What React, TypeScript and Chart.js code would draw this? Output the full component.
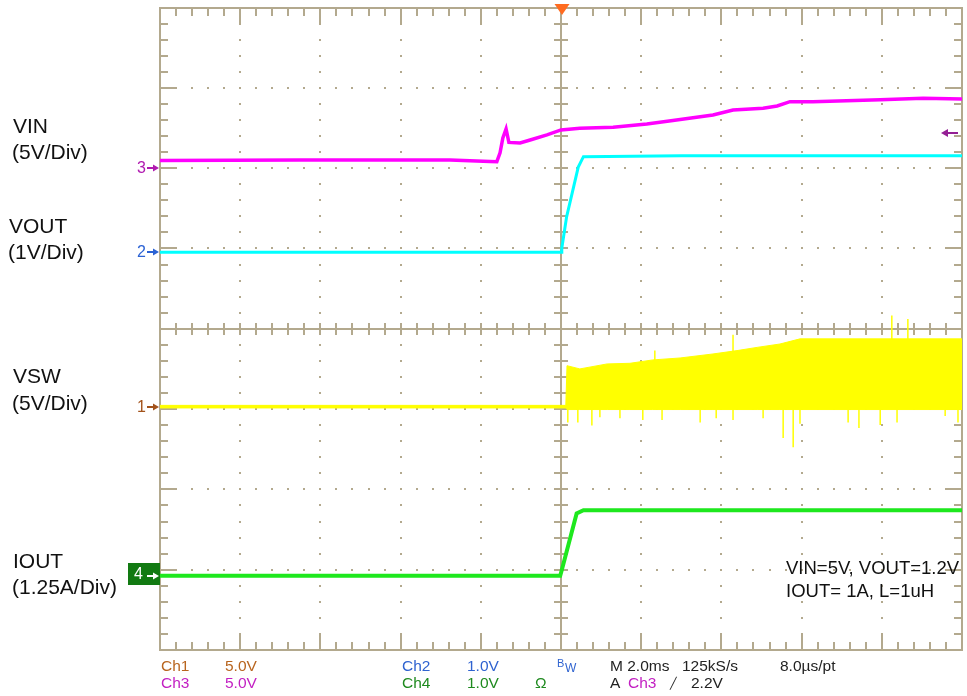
import React, { useEffect, useRef } from "react";
import { Chart, registerables } from "chart.js";

Chart.register(...registerables);

// ---- Time base: 2.0 ms/div, 10 divisions, trigger at centre ----
const T_MIN = -10;
const T_MAX = 10;
const MS_PER_DIV = 2;
const DIVS_X = 10;
const DIVS_Y = 8;

// ---- Channel settings: units / div and ground marker position (div from centre) ----
const CH1_SCALE = 5; // VSW  V/div
const CH1_POS = -0.97;
const CH2_SCALE = 1; // VOUT V/div
const CH2_POS = 0.953;
const CH3_SCALE = 5; // VIN  V/div
const CH3_POS = 2.0;
const CH4_SCALE = 1.25; // IOUT A/div
const CH4_POS = -3.076;
const TRIG_LEVEL_V = 2.2; // Ch3 trigger level

// ---- VIN (Ch3), volts ----
const VIN_T = [-10, -6.51, -2.77, -1.77, -1.6, -1.52, -1.45, -1.37, -1.3, -1.02, -0.77, -0.35, 0, 0.47, 1.3, 2.14, 2.79, 3.79, 4.29, 5.04, 5.39, 5.71, 6.28, 7.96, 9.03, 10];
const VIN_V = [0.48, 0.51, 0.51, 0.42, 0.4, 0.95, 1.88, 2.44, 1.6, 1.57, 1.75, 2.07, 2.38, 2.48, 2.55, 2.75, 2.96, 3.31, 3.62, 3.73, 3.87, 4.14, 4.14, 4.25, 4.35, 4.31];

// ---- VOUT (Ch2), volts ----
const VOUT_T = [-10, -5, 0, 0.02, 0.14, 0.43, 0.56, 3, 10];
const VOUT_V = [0, 0, 0, 0.05, 0.44, 1.06, 1.19, 1.2, 1.2];

// ---- VSW (Ch1), switching envelope, volts ----
const VSW_T = [-10, 0.12, 0.15, 0.47, 1.15, 1.72, 2.29, 2.97, 3.79, 4.39, 4.89, 5.46, 5.96, 9.95, 10];
const VSW_HI = [0.08, 0.08, 2.55, 2.35, 2.66, 2.7, 2.91, 3.03, 3.28, 3.49, 3.69, 3.9, 4.22, 4.22, 4.22];
const VSW_LO = [-0.08, -0.08, -0.18, -0.18, -0.18, -0.18, -0.18, -0.18, -0.18, -0.18, -0.18, -0.18, -0.18, -0.18, -0.18];
// VSW ringing spikes (time ms, peak volts)
const VSW_SPIKE_T = [0.17, 0.42, 0.77, 0.97, 1.47, 2.04, 2.52, 3.47, 3.87, 4.29, 5.04, 5.54, 5.79, 5.96, 7.16, 7.43, 7.96, 8.38, 9.58, 9.9, 2.34, 4.29, 8.25, 8.65];
const VSW_SPIKE_V = [-0.98, -0.98, -1.18, -0.66, -0.72, -0.83, -0.83, -0.98, -0.72, -0.83, -0.72, -1.95, -2.53, -1.06, -0.98, -1.33, -1.14, -0.98, -0.58, -0.98, 3.49, 4.48, 5.67, 5.46];

// ---- IOUT (Ch4), amps ----
const IOUT_T = [-10, -5, -0.02, 0.02, 0.39, 0.56, 3, 10];
const IOUT_A = [0, 0, 0, 0.09, 0.97, 1.02, 1.02, 1.02];

const GRID = "#b3a98e";

function toPts(ts: number[], vs: number[], scale: number, pos: number) {
  return ts.map((t, i) => ({ x: t, y: pos + vs[i] / scale }));
}

function spikePts(ts: number[], vs: number[], scale: number, pos: number) {
  const out: any[] = [];
  ts.forEach((t, i) => {
    out.push({ x: t, y: pos });
    out.push({ x: t, y: pos + vs[i] / scale });
    out.push({ x: t, y: null });
  });
  return out;
}

const scopePlugin = {
  id: "scopeGraticule",
  beforeDatasetsDraw(chart: any) {
    const { ctx, scales } = chart;
    const xs = scales.x;
    const ys = scales.y;
    const px = (d: number) => Math.round(xs.getPixelForValue(T_MIN + d * MS_PER_DIV));
    const py = (d: number) => Math.round(ys.getPixelForValue(DIVS_Y / 2 - d));
    ctx.save();
    ctx.fillStyle = GRID;
    ctx.strokeStyle = GRID;
    // dotted major lines
    for (let i = 1; i < DIVS_X; i++) {
      if (i === DIVS_X / 2) continue;
      const xx = px(i);
      for (let k = 1; k < DIVS_Y * 5; k++) {
        ctx.fillRect(xx - 1, py(k / 5) - 1, 2, 2);
      }
    }
    for (let j = 1; j < DIVS_Y; j++) {
      if (j === DIVS_Y / 2) continue;
      const yy = py(j);
      for (let k = 1; k < DIVS_X * 5; k++) {
        ctx.fillRect(px(k / 5) - 1, yy - 1, 2, 2);
      }
    }
    ctx.lineWidth = 2;
    ctx.beginPath();
    // centre lines
    const cx = px(DIVS_X / 2);
    const cy = py(DIVS_Y / 2);
    ctx.moveTo(cx, py(0));
    ctx.lineTo(cx, py(DIVS_Y));
    ctx.moveTo(px(0), cy);
    ctx.lineTo(px(DIVS_X), cy);
    for (let k = 1; k < DIVS_Y * 5; k++) {
      const yy = py(k / 5);
      ctx.moveTo(cx - 7, yy);
      ctx.lineTo(cx + 7, yy);
    }
    for (let k = 1; k < DIVS_X * 5; k++) {
      const xx = px(k / 5);
      ctx.moveTo(xx, cy - 6);
      ctx.lineTo(xx, cy + 6);
    }
    // border ticks
    const L = px(0), R = px(DIVS_X), T = py(0), B = py(DIVS_Y);
    for (let k = 1; k < DIVS_X * 5; k++) {
      const xx = px(k / 5);
      const len = k % 5 === 0 ? 16 : 8;
      ctx.moveTo(xx, T);
      ctx.lineTo(xx, T + len);
      ctx.moveTo(xx, B);
      ctx.lineTo(xx, B - len);
    }
    for (let k = 1; k < DIVS_Y * 5; k++) {
      const yy = py(k / 5);
      const len = k % 5 === 0 ? 16 : 8;
      ctx.moveTo(L, yy);
      ctx.lineTo(L + len, yy);
      ctx.moveTo(R, yy);
      ctx.lineTo(R - len, yy);
    }
    ctx.stroke();
    ctx.strokeRect(L, T, R - L, B - T);
    ctx.restore();
  },
  afterDatasetsDraw(chart: any) {
    const { ctx, scales } = chart;
    const xs = scales.x;
    const ys = scales.y;
    const L = Math.round(xs.getPixelForValue(T_MIN));
    const R = Math.round(xs.getPixelForValue(T_MAX));
    ctx.save();
    const arrowRight = (yy: number, color: string) => {
      ctx.strokeStyle = color;
      ctx.fillStyle = color;
      ctx.lineWidth = 2;
      ctx.beginPath();
      ctx.moveTo(L - 13, yy);
      ctx.lineTo(L - 5, yy);
      ctx.stroke();
      ctx.beginPath();
      ctx.moveTo(L - 1, yy);
      ctx.lineTo(L - 7, yy - 3.5);
      ctx.lineTo(L - 7, yy + 3.5);
      ctx.closePath();
      ctx.fill();
    };
    arrowRight(Math.round(ys.getPixelForValue(CH3_POS)), "#b01ab0");
    arrowRight(Math.round(ys.getPixelForValue(CH2_POS)), "#2b62d4");
    arrowRight(Math.round(ys.getPixelForValue(CH1_POS)), "#a3531c");
    const y4 = Math.round(ys.getPixelForValue(CH4_POS));
    ctx.fillStyle = "#127a12";
    ctx.fillRect(L - 32, y4 - 13, 32, 22);
    arrowRight(y4, "#ffffff");
    // trigger level arrow (right edge)
    const yt = Math.round(ys.getPixelForValue(CH3_POS + TRIG_LEVEL_V / CH3_SCALE));
    ctx.strokeStyle = "#941f94";
    ctx.fillStyle = "#941f94";
    ctx.lineWidth = 2;
    ctx.beginPath();
    ctx.moveTo(R - 4, yt);
    ctx.lineTo(R - 16, yt);
    ctx.stroke();
    ctx.beginPath();
    ctx.moveTo(R - 21, yt);
    ctx.lineTo(R - 14, yt - 4);
    ctx.lineTo(R - 14, yt + 4);
    ctx.closePath();
    ctx.fill();
    // trigger position marker (top)
    const xc = xs.getPixelForValue(0) + 1;
    ctx.fillStyle = "#ff6b1f";
    ctx.beginPath();
    ctx.moveTo(xc - 7.5, 4);
    ctx.lineTo(xc + 7.5, 4);
    ctx.lineTo(xc, 15);
    ctx.closePath();
    ctx.fill();
    ctx.restore();
  },
};

const FONT = '"Liberation Sans", Arial, Helvetica, sans-serif';

type Txt = { t: string; x: number; b: number; s: number; c: string };

const TEXTS: Txt[] = [
  { t: "VIN", x: 13, b: 133, s: 21, c: "#111" },
  { t: "(5V/Div)", x: 12, b: 159, s: 21, c: "#111" },
  { t: "VOUT", x: 9, b: 233, s: 21, c: "#111" },
  { t: "(1V/Div)", x: 8, b: 259, s: 21, c: "#111" },
  { t: "VSW", x: 13, b: 383, s: 21, c: "#111" },
  { t: "(5V/Div)", x: 12, b: 410, s: 21, c: "#111" },
  { t: "IOUT", x: 13, b: 568, s: 21, c: "#111" },
  { t: "(1.25A/Div)", x: 12, b: 594, s: 21, c: "#111" },
  { t: "VIN=5V, VOUT=1.2V", x: 786, b: 575, s: 18.5, c: "#111" },
  { t: "IOUT= 1A, L=1uH", x: 786, b: 598, s: 18.5, c: "#111" },
  // channel ground markers
  { t: "3", x: 137, b: 174, s: 16, c: "#b01ab0" },
  { t: "2", x: 137, b: 258, s: 16, c: "#2b62d4" },
  { t: "1", x: 137, b: 413, s: 16, c: "#a3531c" },
  { t: "4", x: 134, b: 580, s: 16, c: "#ffffff" },
  // readouts
  { t: "Ch1", x: 161, b: 671, s: 15.5, c: "#b8651f" },
  { t: "5.0V", x: 225, b: 671, s: 15.5, c: "#b8651f" },
  { t: "Ch2", x: 402, b: 671, s: 15.5, c: "#2f63d0" },
  { t: "1.0V", x: 467, b: 671, s: 15.5, c: "#2f63d0" },
  { t: "B", x: 557, b: 667, s: 11, c: "#2f63d0" },
  { t: "W", x: 565, b: 672, s: 12, c: "#2f63d0" },
  { t: "M 2.0ms", x: 610, b: 671, s: 15.5, c: "#222" },
  { t: "125kS/s", x: 682, b: 671, s: 15.5, c: "#222" },
  { t: "8.0µs/pt", x: 780, b: 671, s: 15.5, c: "#222" },
  { t: "Ch3", x: 161, b: 688, s: 15.5, c: "#c21fc2" },
  { t: "5.0V", x: 225, b: 688, s: 15.5, c: "#c21fc2" },
  { t: "Ch4", x: 402, b: 688, s: 15.5, c: "#1f8a1f" },
  { t: "1.0V", x: 467, b: 688, s: 15.5, c: "#1f8a1f" },
  { t: "Ω", x: 535, b: 688, s: 15.5, c: "#1f8a1f" },
  { t: "A", x: 610, b: 688, s: 15.5, c: "#222" },
  { t: "Ch3", x: 628, b: 688, s: 15.5, c: "#c21fc2" },
  { t: "╱", x: 670, b: 687, s: 11, c: "#222" },
  { t: "2.2V", x: 691, b: 688, s: 15.5, c: "#222" },
];

export default function App() {
  const ref = useRef<HTMLCanvasElement | null>(null);

  useEffect(() => {
    if (!ref.current) return;
    const base = { pointRadius: 0, tension: 0, fill: false };
    const chart = new Chart(ref.current, {
      type: "line",
      data: {
        datasets: [
          { ...base, label: "VIN", data: toPts(VIN_T, VIN_V, CH3_SCALE, CH3_POS), borderColor: "#ff00ff", borderWidth: 3.5 },
          { ...base, label: "VOUT", data: toPts(VOUT_T, VOUT_V, CH2_SCALE, CH2_POS), borderColor: "#00ffff", borderWidth: 3 },
          { ...base, label: "IOUT", data: toPts(IOUT_T, IOUT_A, CH4_SCALE, CH4_POS), borderColor: "#1ee81e", borderWidth: 4 },
          { ...base, label: "VSW spikes", data: spikePts(VSW_SPIKE_T, VSW_SPIKE_V, CH1_SCALE, CH1_POS), borderColor: "#ffff00", borderWidth: 1.5, spanGaps: false },
          { ...base, label: "VSW hi", data: toPts(VSW_T, VSW_HI, CH1_SCALE, CH1_POS), borderColor: "#ffff00", borderWidth: 1 },
          { ...base, label: "VSW lo", data: toPts(VSW_T, VSW_LO, CH1_SCALE, CH1_POS), borderColor: "#ffff00", borderWidth: 1, fill: "-1", backgroundColor: "#ffff00" },
        ] as any,
      },
      options: {
        responsive: false,
        devicePixelRatio: 1,
        animation: false,
        events: [],
        layout: { padding: { left: 160, right: 5, top: 7.5, bottom: 46 } },
        scales: {
          x: { type: "linear", min: T_MIN, max: T_MAX, display: false },
          y: { type: "linear", min: -DIVS_Y / 2, max: DIVS_Y / 2, display: false },
        },
        plugins: { legend: { display: false }, tooltip: { enabled: false } },
      } as any,
      plugins: [scopePlugin],
    });
    return () => chart.destroy();
  }, []);

  return (
    <div style={{ position: "fixed", left: 0, top: 0, width: 967, height: 696, background: "#fff", overflow: "hidden" }}>
      <canvas ref={ref} width={967} height={696} style={{ position: "absolute", left: 0, top: 0, width: 967, height: 696 }} />
      {TEXTS.map((d, i) => (
        <div
          key={i}
          style={{
            position: "absolute",
            left: d.x,
            top: d.b - 0.8465 * d.s,
            fontFamily: FONT,
            fontSize: d.s,
            lineHeight: `${d.s}px`,
            color: d.c,
            whiteSpace: "pre",
          }}
        >
          {d.t}
        </div>
      ))}
    </div>
  );
}
